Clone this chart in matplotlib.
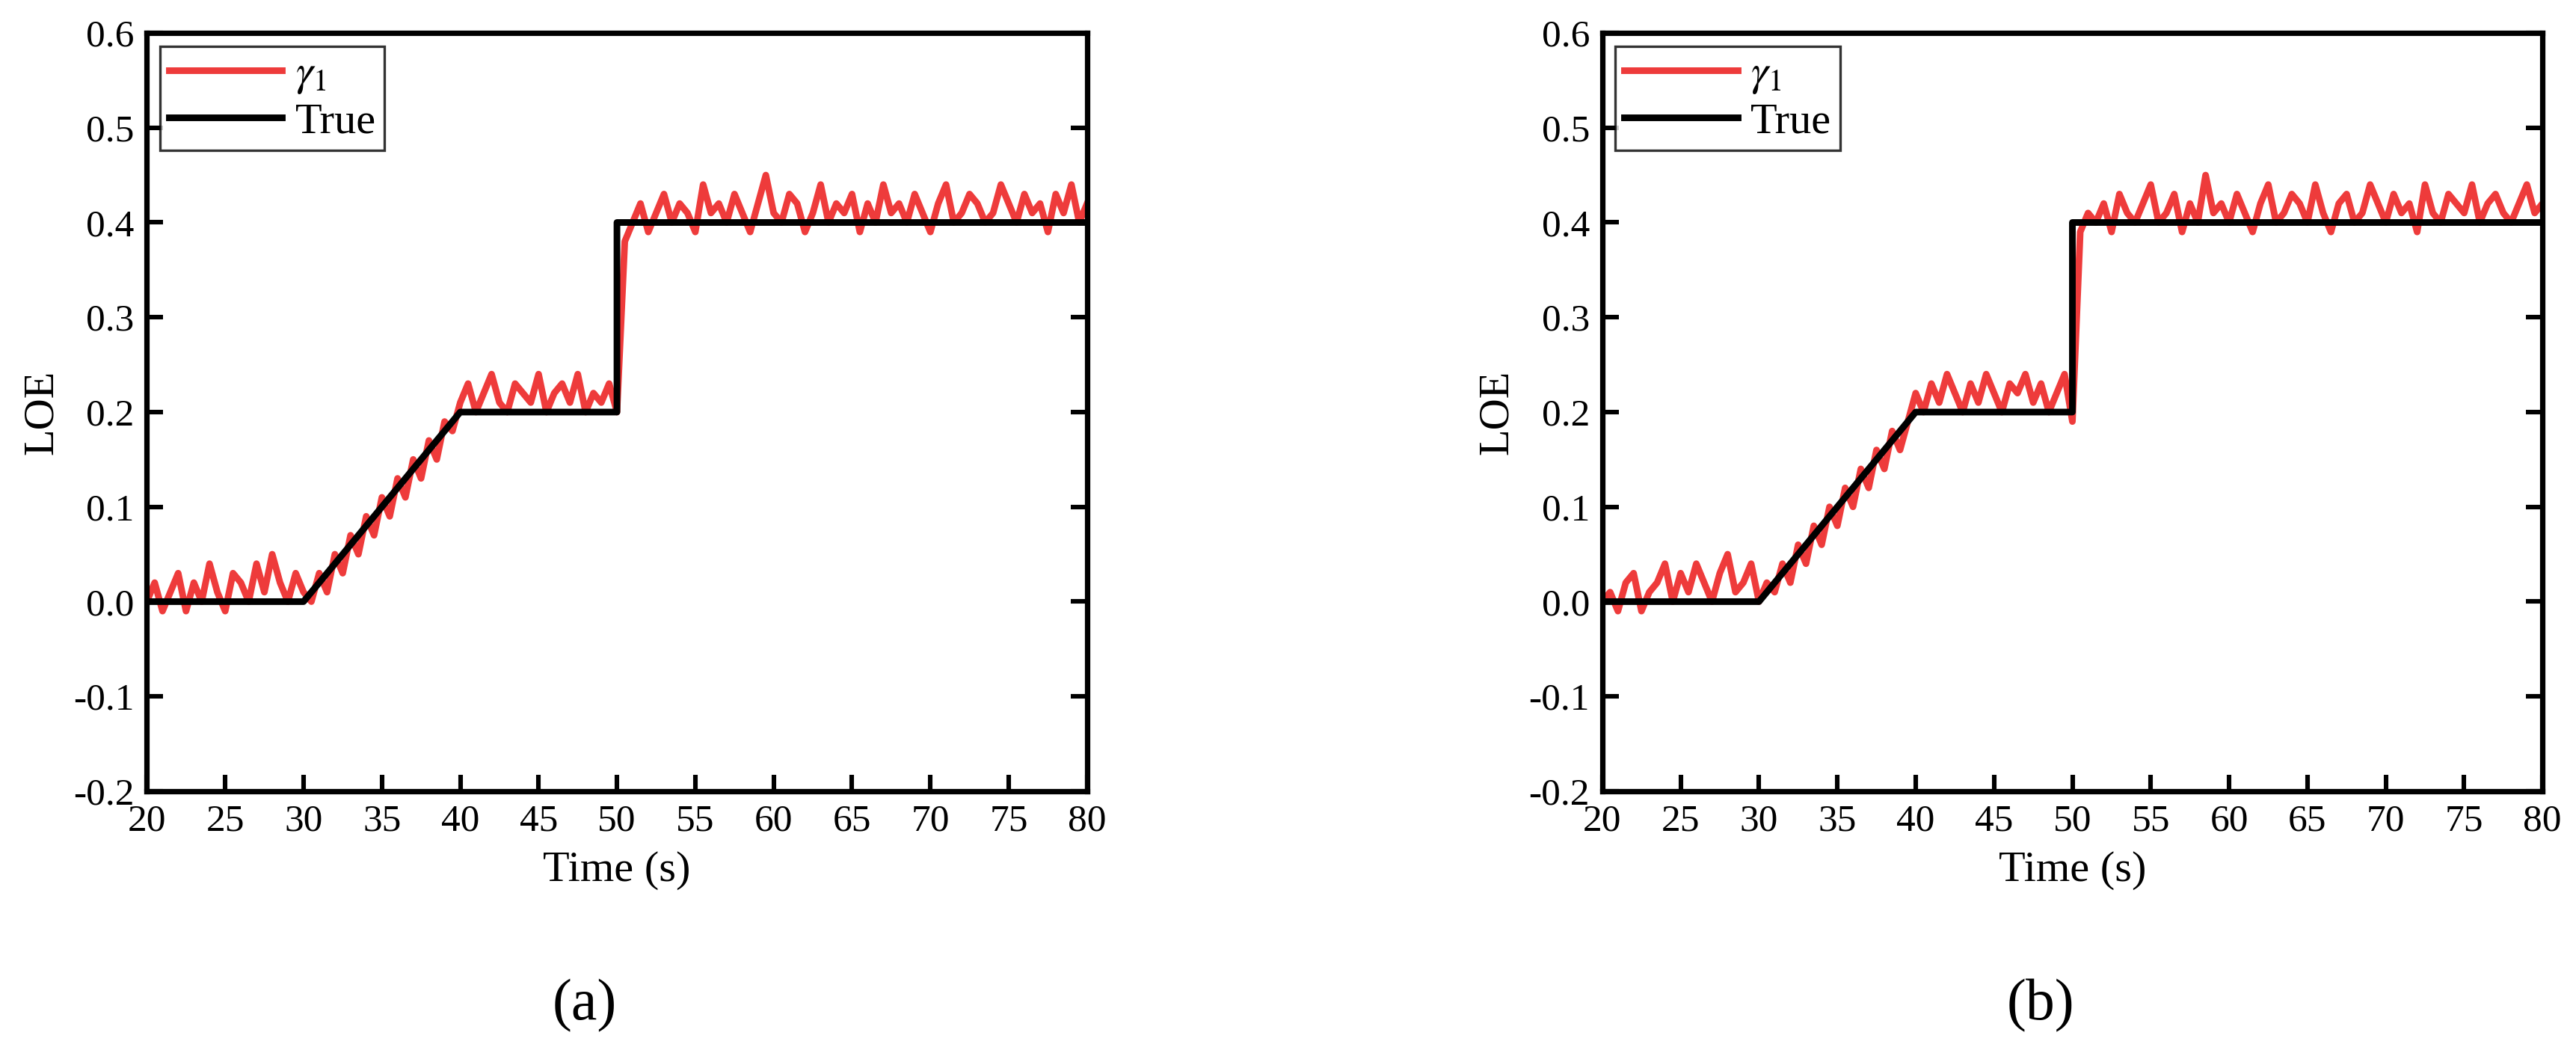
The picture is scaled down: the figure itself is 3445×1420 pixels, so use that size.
import matplotlib
matplotlib.use("Agg")
import matplotlib.pyplot as plt
import numpy as np

plt.rcParams["font.family"] = ["Liberation Serif", "DejaVu Serif"]
plt.rcParams["mathtext.fontset"] = "stix"

# true LOE profile
true_t = [20, 30, 40, 50, 50, 80]
true_v = [0.0, 0.0, 0.2, 0.2, 0.4, 0.4]

# estimated gamma_1, sampled every 0.5 s from 20 s to 80 s
est_a = [0.00, 0.02, -0.01, 0.01, 0.03, -0.01, 0.02, 0.00, 0.04, 0.01,
         -0.01, 0.03, 0.02, 0.00, 0.04, 0.01, 0.05, 0.02, 0.00, 0.03,
         0.01, 0.00, 0.03, 0.01, 0.05, 0.03, 0.07, 0.05, 0.09, 0.07,
         0.11, 0.09, 0.13, 0.11, 0.15, 0.13, 0.17, 0.15, 0.19, 0.18,
         0.21, 0.23, 0.20, 0.22, 0.24, 0.21, 0.20, 0.23, 0.22, 0.21,
         0.24, 0.20, 0.22, 0.23, 0.21, 0.24, 0.20, 0.22, 0.21, 0.23,
         0.20, 0.38, 0.40, 0.42, 0.39, 0.41, 0.43, 0.40, 0.42, 0.41,
         0.39, 0.44, 0.41, 0.42, 0.40, 0.43, 0.41, 0.39, 0.42, 0.45,
         0.41, 0.40, 0.43, 0.42, 0.39, 0.41, 0.44, 0.40, 0.42, 0.41,
         0.43, 0.39, 0.42, 0.40, 0.44, 0.41, 0.42, 0.40, 0.43, 0.41,
         0.39, 0.42, 0.44, 0.40, 0.41, 0.43, 0.42, 0.40, 0.41, 0.44,
         0.42, 0.40, 0.43, 0.41, 0.42, 0.39, 0.43, 0.41, 0.44, 0.40, 0.42]
est_b = [0.00, 0.01, -0.01, 0.02, 0.03, -0.01, 0.01, 0.02, 0.04, 0.00,
         0.03, 0.01, 0.04, 0.02, 0.00, 0.03, 0.05, 0.01, 0.02, 0.04,
         0.00, 0.02, 0.01, 0.04, 0.02, 0.06, 0.04, 0.08, 0.06, 0.10,
         0.08, 0.12, 0.10, 0.14, 0.12, 0.16, 0.14, 0.18, 0.16, 0.19,
         0.22, 0.20, 0.23, 0.21, 0.24, 0.22, 0.20, 0.23, 0.21, 0.24,
         0.22, 0.20, 0.23, 0.22, 0.24, 0.21, 0.23, 0.20, 0.22, 0.24,
         0.19, 0.39, 0.41, 0.40, 0.42, 0.39, 0.43, 0.41, 0.40, 0.42,
         0.44, 0.40, 0.41, 0.43, 0.39, 0.42, 0.40, 0.45, 0.41, 0.42,
         0.40, 0.43, 0.41, 0.39, 0.42, 0.44, 0.40, 0.41, 0.43, 0.42,
         0.40, 0.44, 0.41, 0.39, 0.42, 0.43, 0.40, 0.41, 0.44, 0.42,
         0.40, 0.43, 0.41, 0.42, 0.39, 0.44, 0.41, 0.40, 0.43, 0.42,
         0.41, 0.44, 0.40, 0.42, 0.43, 0.41, 0.40, 0.42, 0.44, 0.41, 0.42]

panels = [("(a)", est_a, 0.057), ("(b)", est_b, 0.622)]

fig = plt.figure(figsize=(17.225, 7.1), dpi=200)
for label, est, left in panels:
    ax = fig.add_axes([left, 0.255, 0.365, 0.714])
    t = np.linspace(20, 80, len(est))
    ax.plot(t, est, color="#ee3b3b", linewidth=3.2, label=r"$\gamma_1$")
    ax.plot(true_t, true_v, color="black", linewidth=3.2, label="True")
    ax.set_xlim(20, 80)
    ax.set_ylim(-0.2, 0.6)
    ax.set_xticks(np.arange(20, 81, 5))
    ax.set_yticks(np.arange(-0.2, 0.61, 0.1))
    ax.yaxis.set_major_formatter(matplotlib.ticker.FormatStrFormatter("%.1f"))
    ax.tick_params(direction="in", length=8, width=2.2, labelsize=18.5,
                   right=True, left=True, pad=6)
    for s in ax.spines.values():
        s.set_linewidth(2.6)
    ax.set_xlabel("Time (s)", fontsize=21, labelpad=6)
    ax.set_ylabel("LOE", fontsize=21, labelpad=6)
    leg = ax.legend(loc="upper left", fontsize=21, fancybox=False,
                    edgecolor="black", handlelength=2.6, borderaxespad=0.3,
                    handletextpad=0.3, labelspacing=0.15, borderpad=0.2)
    leg.get_frame().set_linewidth(1.2)
    fig.text(left + 0.17, 0.04, label, fontsize=28, ha="center")

fig.savefig("out.png")
